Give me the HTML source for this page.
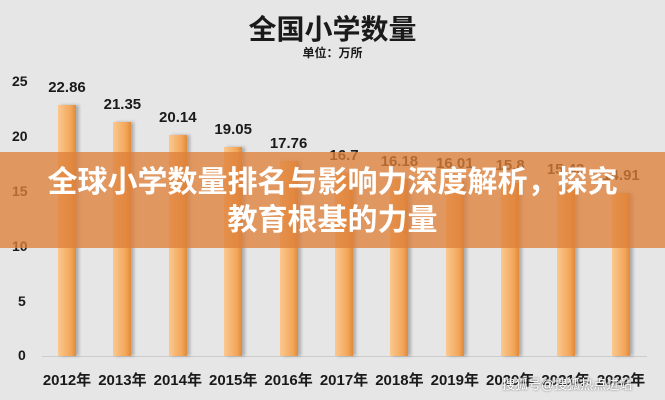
<!DOCTYPE html>
<html><head><meta charset="utf-8"><style>
body{margin:0;width:665px;height:400px;overflow:hidden;background:#e6e6e6;font-family:"Liberation Sans","Noto Sans CJK SC",sans-serif;}
.wrap{position:relative;width:665px;height:400px;}
.t{position:absolute;white-space:nowrap;color:#1a1a1a;font-weight:bold;}
.bar{position:absolute;width:18px;background:linear-gradient(90deg,#fbc88f,#f3a75a 70%,#e08a3a);box-shadow:3px 0 3px rgba(0,0,0,0.25);}
.banner{position:absolute;left:0;top:152px;width:665px;height:96px;background:rgba(222,128,58,0.78);}
</style></head><body><div class="wrap">
<div class="t" style="left:0;width:665px;text-align:center;top:8px;font-size:28px;">全国小学数量</div>
<div class="t" style="left:0;width:665px;text-align:center;top:44px;font-size:12px;">单位：万所</div>
<div style="position:absolute;left:42px;top:356px;width:605px;height:1px;background:#ccc"></div>
<div class="t" style="left:12px;top:73px;font-size:14px">25</div>
<div class="t" style="left:12px;top:128px;font-size:14px">20</div>
<div class="t" style="left:12px;top:183px;font-size:14px">15</div>
<div class="t" style="left:12px;top:238px;font-size:14px">10</div>
<div class="t" style="left:18px;top:293px;font-size:14px">5</div>
<div class="t" style="left:18px;top:347px;font-size:14px">0</div>
<div id="bars"></div>
<script>
(function(){
var v=[22.86,21.35,20.14,19.05,17.76,16.7,16.18,16.01,15.8,15.43,14.91],h='';
for(var i=0;i<11;i++){var x=58+i*55.4,yt=356-v[i]*10.96;
h+='<div class="bar" style="left:'+x+'px;top:'+yt+'px;height:'+(356-yt)+'px"></div>';
h+='<div class="t" style="left:'+(x-21)+'px;width:60px;text-align:center;top:'+(yt-26)+'px;font-size:15px">'+v[i]+'</div>';
h+='<div class="t" style="left:'+(x-23)+'px;width:64px;text-align:center;top:369px;font-size:15px">'+(2012+i)+'年</div>';}
document.getElementById('bars').innerHTML=h;
})();
</script>
<div class="banner"></div>
<div class="t" style="left:0;width:665px;text-align:center;top:164px;font-size:30px;color:#fff;line-height:38px">全球小学数量排名与影响力深度解析，探究<br>教育根基的力量</div>
<div class="t" style="left:502px;top:374px;font-size:13px;color:#fff;font-weight:normal;text-shadow:0 0 2px #555">搜狐号@搜狐热点进站</div>
</div></body></html>
